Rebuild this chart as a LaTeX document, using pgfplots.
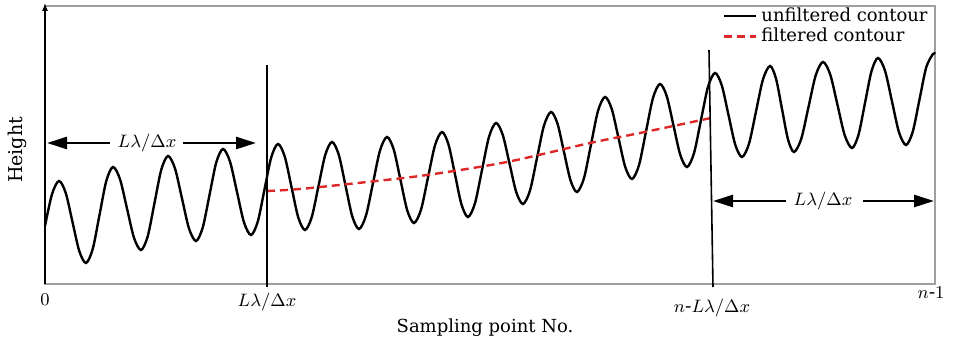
\documentclass[border=0pt]{standalone}
\usepackage{pgfplots}
\pgfplotsset{compat=1.18}
\usepackage{fontspec}
\setmainfont{DejaVu Serif}
\usetikzlibrary{arrows.meta}
\definecolor{filtred}{RGB}{222,40,40}
\begin{document}
\begin{tikzpicture}
\begin{axis}[
  scale only axis, width=445pt, height=139pt,
  xmin=45, xmax=935, ymin=0, ymax=278,
  axis line style={draw=gray!75, line width=0.6pt},
  xtick=\empty, ytick=\empty,
  clip=false,
  legend style={draw=none, fill=none, at={(axis cs:934,283)}, anchor=north east,
    font=\fontsize{9}{10}\selectfont, row sep=-2pt, inner sep=1pt},
  legend cell align=left,
  legend image code/.code={\draw[#1] (0pt,0pt) -- (16pt,0pt);},
]
\addplot[black, line width=1.2pt, smooth] coordinates {
(45,58) (52,89.8) (59,103) (65.75,91) (72.5,62) (79.25,33) (86,21) (92.75,35.1)
(99.5,69) (106.25,102.9) (113,117) (120,104.8) (127,75.5) (134,46.2) (141,34)
(147.75,47.8) (154.5,81) (161.25,114.2) (168,128) (175,115.5) (182,85.5)
(189,55.5) (196,43) (202.75,56.5) (209.5,89) (216.25,121.5) (223,135)
(230,122.4) (237,92) (244,61.6) (251,49) (257.75,62.3) (264.5,94.5)
(271.25,126.7) (278,140) (284.75,127.4) (291.5,97) (298.25,66.6) (305,54)
(311.75,66.9) (318.5,98) (325.25,129.1) (332,142) (338.75,129.3) (345.5,98.5)
(352.25,67.7) (359,55) (366,68.5) (373,101) (380,133.5) (387,147)
(393.75,134.4) (400.5,104) (407.25,73.6) (414,61) (421,74.3) (428,106.5)
(435,138.7) (442,152) (448.5,139.5) (455,109.5) (461.5,79.5) (468,67)
(475,80.8) (482,114) (489,147.2) (496,161) (502.75,149.1) (509.5,120.5)
(516.25,91.9) (523,80) (530,93.5) (537,126) (544,158.5) (551,172)
(557.5,160.3) (564,132) (570.5,103.7) (577,92) (584,105.9) (591,139.5)
(598,173.1) (605,187) (611.75,175) (618.5,146) (625.25,117) (632,105)
(639,118.9) (646,152.5) (653,186.1) (660,200) (666.75,187.8) (673.5,158.5)
(680.25,129.2) (687,117) (694,130.8) (701,164) (708,197.2) (715,211)
(721.75,198.7) (728.5,169) (735.25,139.3) (742,127) (749,140.3) (756,172.5)
(763,204.7) (770,218) (776,205.4) (782,175) (788,144.6) (794,132)
(801.25,145.2) (808.5,177) (815.75,208.8) (823,222) (830.25,209.4)
(837.5,179) (844.75,148.6) (852,136) (858.5,149.2) (865,181) (871.5,212.8)
(878,226) (885,213.3) (892,182.5) (899,151.7) (906,139) (912.75,152.3)
(919.5,184.5) (926.25,216.7) (933,230) (935,230)
};
\addlegendentry{unfiltered contour}
\addplot[filtred, line width=1.2pt, dash pattern=on 4pt off 2.5pt, smooth] coordinates {
(267,93) (300,95) (367,102) (427,109) (507,122) (590,141) (640,151) (711,166)
};
\addlegendentry{filtered contour}
% left axis with arrow
\draw[black, line width=0.6pt, -{Latex[length=4pt,width=3pt]}] (axis cs:45,0) -- (axis cs:45,281);
% vertical lines
\draw[black, line width=0.8pt] (axis cs:267,-3) -- (axis cs:267,219);
\draw[black, line width=0.8pt] (axis cs:713,-3) -- (axis cs:709,234);
% arrows
\draw[black, line width=1.3pt, -{Triangle[length=10pt,width=6pt]}] (axis cs:110,141) -- (axis cs:47,141);
\draw[black, line width=1.3pt, -{Triangle[length=10pt,width=6pt]}] (axis cs:183,141) -- (axis cs:256,141);
\node[font=\fontsize{9.5}{10}\selectfont] at (axis cs:147,141) {$L\lambda/\Delta x$};
\draw[black, line width=1.3pt, -{Triangle[length=10pt,width=6pt]}] (axis cs:786,83) -- (axis cs:713,83);
\draw[black, line width=1.3pt, -{Triangle[length=10pt,width=6pt]}] (axis cs:863,83) -- (axis cs:934,83);
\node[font=\fontsize{9.5}{10}\selectfont] at (axis cs:823,83) {$L\lambda/\Delta x$};
% tick labels
\node[font=\fontsize{9.5}{10}\selectfont] at (axis cs:45,-16) {$0$};
\node[font=\fontsize{9.5}{10}\selectfont] at (axis cs:267,-18) {$L\lambda/\Delta x$};
\node[font=\fontsize{9.5}{10}\selectfont] at (axis cs:712,-24) {$n$-$L\lambda/\Delta x$};
\node[font=\fontsize{9.5}{10}\selectfont] at (axis cs:931,-9) {$n$-$1$};
% axis labels
\node[font=\fontsize{9}{10}\selectfont, anchor=base] at (axis cs:485,-49) {Sampling point No.};
\node[font=\fontsize{9.5}{10}\selectfont, rotate=90] at (axis cs:17,134) {Height};
% bounding box
\path (axis cs:0,-63) rectangle (axis cs:954,284);
\end{axis}
\end{tikzpicture}
\end{document}
